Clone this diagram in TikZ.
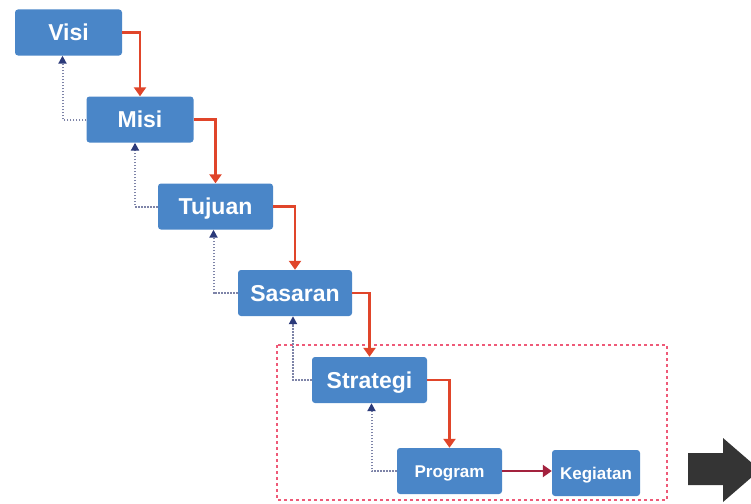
\documentclass[tikz,border=0pt]{standalone}
\usepackage{fontspec}
\setmainfont{Liberation Sans}
\usetikzlibrary{arrows.meta}
\definecolor{boxblue}{HTML}{4A86C8}
\definecolor{flowred}{HTML}{E0452A}
\definecolor{darkred}{HTML}{A3223E}
\definecolor{backgray}{HTML}{7E84A8}
\definecolor{navytip}{HTML}{2B3A7A}
\definecolor{framepink}{HTML}{EE5A78}
\definecolor{bigarrow}{HTML}{343434}
\tikzset{
  stagebox/.style={fill=boxblue, rounded corners=3pt, text=white, inner sep=0pt,
    font=\fontsize{23}{25}\selectfont\bfseries, minimum height=46pt,
    text height=16.5pt, text depth=0pt},
  smallbox/.style={stagebox, font=\fontsize{17}{19}\selectfont\bfseries,
    text height=12.2pt},
  downflow/.style={draw=flowred, line width=2.6pt, -{Triangle[width=12pt,length=9pt]}},
  sideflow/.style={draw=darkred, line width=2.6pt, -{Triangle[width=12pt,length=9pt]}},
  backflow/.style={draw=backgray, line width=2pt, dash pattern=on 1.8pt off 1.2pt,
    -{Triangle[width=8pt,length=8pt,fill=navytip,color=navytip]}},
  groupframe/.style={draw=framepink, line width=1.3pt, dash pattern=on 3pt off 3pt},
}
\begin{document}
\begin{tikzpicture}[x=1pt,y=-1pt]
\useasboundingbox (0,0) rectangle (751,503);
\clip (0,0) rectangle (751,503);
\node[stagebox, minimum width=107pt] (visi) at (68.5,32.5) {Visi};
\node[stagebox, minimum width=107pt] (misi) at (140,119.5) {Misi};
\node[stagebox, minimum width=115pt] (tujuan) at (215.5,206.5) {Tujuan};
\node[stagebox, minimum width=114pt] (sasaran) at (295,293) {Sasaran};
\node[stagebox, minimum width=115pt] (strategi) at (369.5,380) {Strategi};
\node[smallbox, minimum width=105pt] (program) at (449.5,471) {Program};
\node[smallbox, minimum width=88pt] (kegiatan) at (596,473) {Kegiatan};
\draw[groupframe] (277,345) rectangle (667,500);
\draw[downflow] (visi.east) -| (misi.north);
\draw[downflow] (misi.east) -| (tujuan.north);
\draw[downflow] (tujuan.east) -| (sasaran.north);
\draw[downflow] (sasaran.east) -| (strategi.north);
\draw[downflow] (strategi.east) -| (program.north);
\draw[sideflow] (program.east) -- (kegiatan.west |- program.east);
\draw[backflow] (misi.west) -| ([xshift=-6pt]visi.south);
\draw[backflow] (tujuan.west) -| ([xshift=-5pt]misi.south);
\draw[backflow] (sasaran.west) -| ([xshift=-2pt]tujuan.south);
\draw[backflow] (strategi.west) -| ([xshift=-2pt]sasaran.south);
\draw[backflow] (program.west) -| ([xshift=2pt]strategi.south);
\fill[bigarrow] (688,453) -- (723,453) -- (723,438) -- (760,470) -- (723,502) -- (723,485) -- (688,485) -- cycle;
\end{tikzpicture}
\end{document}
